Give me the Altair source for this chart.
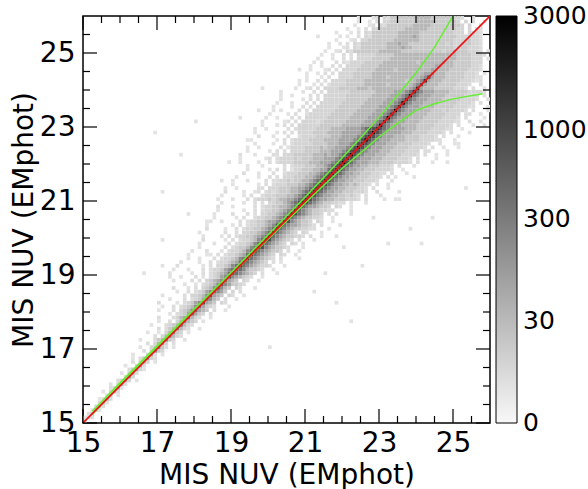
import altair as alt
import pandas as pd

# ---------------- data ----------------
mag_min = 15.0
mag_max = 26.0
bin_size = 0.1
n_bins = 110

# character -> count level of a 2D-histogram cell ('.' = empty)
level_chars = "123456789ab"
level_counts = [1, 2, 5, 12, 35, 80, 200, 400, 800, 1500, 3000]

# one string per y-bin (15.0-15.1, 15.1-15.2, ...): cells left of the diagonal,
# '|', the diagonal cell, then cells right of the diagonal
row_cells = [
    # y 15 - 16
    "|3", "1|32", "2|4", "1|41", "2|42", ".2|41", "12|52", "2|4.1", "1.3|52", "23|51",
    # y 16 - 17
    "1.3|52", "23|53.1", "2|63", "1.3|52.", "24|631",
    "1..3|62", "2.3|53.1", "1.24|632", "1...3|62.1", "2.3|743",
    # y 17 - 18
    "1..34|742.1", "2.35|63.2", "1...245|743..1", "2.35|7532", "1..1.35|743.1",
    "2.245|7532..1", "1...2345|8532", "1..2.35|7543.1", "2...2356|8532..1", "1.2346|8643.2",
    # y 18 - 19
    "1...2.3457|8654.2..1", "1..2.23457|86432...1", "2....1.23467|9654.32", "1...2.2346|8754.2..1",
    "1.....2.33457|9654.32..1", "1..2.23467|8764.3.2", "2...1.2.3457|9754.32...1",
    "1..1.23457|9764432", "1....2.2.34567|8654.32..1", "1...2.1.23467|9765432..1",
    # y 19 - 20
    "1.....1..2.234568|9876543.2...1", "1...1...2.2334678|98754432..1", "2......1.2.334578|a87654332...1",
    "1....1..2.2334568|9876543.2.1", "1..1...2.2334578|a8765432.2....1", "1.....1.2.2334568|a876543.32..1",
    "1...2...1.2334578|a8765443.2..1", "1......2.2344578|a97654432...1", "1...1...2.2334578|a876543.32.1",
    "2.....1.2.2334578|a9765432.2...1",
    # y 20 - 21
    "1....1.2.233445678|a876544332.2..1...1", "1......2..2.33445678|a876543.32...1",
    "2....1..2.233445678|a8765443322...1", "1......1.2.233445679|a876654432.2....1",
    "1...1....2.2334456678|a9765443.32..1", "1.....1.2..233445678|a876544332..1",
    "1....2...2.2.33445678|a98765443.2.2...1", "1......1..2.233445678|a8765443322....1",
    "2...1.....2.2334455678|a87665443.32..1", "1.....1..2.2.334456789|a98765443322.1...1",
    # y 21 - 22
    "1...1...2.23334345566789|a98766554443332.2....1..1", "1.....1.2..2333444556789|a9876655443432.2...1",
    "2....1...2.2323444556789|a98766554443332..2.....1", "1..1.....22.3334445566789|a9876655444332.2...1",
    "1......1.2.2333444556789|a9876655454332.2..1", "1...1....2.22334344556789|a98766554443332...1",
    "1.....1..2.2.333444556789|a98766554443332.2.1....1", "2...1...2..2333444556789|a98766554443322.2...1",
    "1.....1.2.2.333444556689|a987665544433332..1", "1...1.....2.2333444556789|a98766554443332.2...1",
    # y 22 - 23
    "1....1..2.233334444555666789|b987666555444433332.2...1...1",
    "1......12.2333343444555666789|a98766655544443332.2....1",
    "2...1....22.333444445556566789|b987666555444433332.2..1",
    "1.....1.2.2.33334444555666789|a98766655544443333.22....1",
    "1..1.....2.2333344445455666789|b987666555444433332.2..1...1",
    "1....1..2.2333334444555666789|a987666555444433332..2...1",
    "1......1.2.23333444455556666789|b98766655554444333322...1",
    "2...1...2..2333344445556666789|a987666555444433332.2...1",
    "1.....1.2.2.33334444555566666789|b9876666555444433332.2....1",
    "1..1.....2.2333334444555566667899|a98766665554444333322..1",
    # y 23 - 24
    "1...1.2.2.3333334444445555566678|b8766655554444433332.2...1..1",
    "1.....12.2.3333234444445555566678|a87666555544444333322..2..1",
    "1..1...2.2.3333334444445555566678|b8766655554444433332.2....1",
    "1....1.2..23333334444445555566678|a876665555444443333.22..1",
    "1.1....2.2.3333334444445555566678|b8766655554443433332.2...1",
    "1....1..2.2.3333334444445555566678|a87666555544444333322...1..1",
    "1...1...2.2.3333334444445555566678|b8766655554444433332.2..1",
    "1.....1.2.2.3333334444445555566678|a8766655554444433332..2..1",
    "1..1....2.2.33333344444445555566678|b876665555444443333.2.2...1",
    "1.....1..2.2.33333344444445555566678|a8766655554444433332.2..1",
    # y 24 - 25
    "1..12.2.3333444445554555555555567|a6555444443332.2..1",
    "1...1.2.2333344444555555455555567|96555444443332..2",
    "1.1..2.2.3333444445555555555545567|a6555444443332.2",
    "1...1.2..333344444555545555555567|965554444433322",
    "1..1.2.2.3333444445555555555555566|7555444443332.1",
    "1...12.2.3333444445555545555555556|6555444443332",
    "1..1..2.2.3333444445555555555555556|655544444332",
    "1.1...2.2.3333444445555555554555555|65544444333",
    "1...1..2.2.333344444555555555555555|5554444333",
    "1..1..2.2.3333344444555555555555555|5544443332",
    # y 25 - 26
    "1..12.32444444455555544444444444344|54443332.1",
    "1...12.3244444445555655444444444443|4443332",
    "1..1.2.32444444455565544444444443433|444332.",
    "1...12.3344444445555555444444444333|44332",
    "1.1..2.3244444445555654444444444333|4332",
    "1...1.2.324444444555555444444444333.3|332",
    "1..1.2.3344444445555554444444433.3.|32",
    "1...12.32444444455555444444443.3..|3.",
    "1..1.2.334444444555554444443.3.2..|2",
    "1...12.3244444445555444444332..2...|.",
]

# isolated single-count cells far from the diagonal
outlier_x = [18.07, 17.62, 17.13, 16.90, 17.13, 17.13, 17.35, 19.24, 19.86, 21.30, 20.86, 20.05,
             22.26, 22.57, 24.10, 23.84, 23.24, 25.10, 25.32, 24.83, 24.46, 22.03, 21.22, 18.70,
             18.48, 18.30, 19.42, 19.78, 20.53, 20.60, 21.86, 22.13, 25.64, 25.95, 21.50, 22.80,
             23.50, 21.80, 17.80, 18.90, 19.60, 20.20, 16.60]
outlier_y = [23.14, 22.27, 21.28, 22.87, 19.95, 19.22, 18.90, 23.27, 24.08, 25.46, 24.59, 17.03,
             17.74, 19.23, 19.86, 20.20, 19.81, 22.50, 21.30, 22.24, 20.58, 19.76, 18.59, 21.52,
             20.44, 19.50, 22.65, 23.46, 22.47, 21.84, 25.08, 24.72, 24.27, 24.80, 19.00, 20.50,
             21.00, 18.20, 20.60, 22.00, 21.20, 23.00, 19.00]

# reference lines
red_x = [15.0, 26.0]
red_y = [15.0, 26.0]

upper_x = [15.25, 16.0, 17.0, 18.0, 19.0, 20.0, 21.0, 21.5, 22.0, 22.5, 23.0, 23.5, 24.0, 24.5, 25.0]
upper_y = [15.32, 16.09, 17.09, 18.08, 19.07, 20.08, 21.10, 21.63, 22.16, 22.70, 23.26, 23.86, 24.46, 25.15, 26.00]
lower_x = [15.25, 16.0, 17.0, 18.0, 19.0, 20.0, 21.0, 21.5, 22.0, 22.5, 23.0, 23.5, 24.0, 24.5, 25.0, 25.8]
lower_y = [15.22, 16.04, 17.04, 18.02, 19.00, 19.97, 20.94, 21.42, 21.88, 22.30, 22.73, 23.10, 23.45, 23.63, 23.76, 23.90]

major_ticks = [15, 17, 19, 21, 23, 25]
minor_ticks = [15.5, 16, 16.5, 17.5, 18, 18.5, 19.5, 20, 20.5, 21.5, 22, 22.5, 23.5, 24, 24.5, 25.5]
colorbar_ticks = [0, 30, 300, 1000, 3000]

axis_title = "MIS NUV (EMphot)"

# ---------------- tables ----------------
def add_cell(recs, col, row, count):
    if 0 <= col < n_bins and 0 <= row < n_bins:
        x0 = round(mag_min + col * bin_size, 2)
        y0 = round(mag_min + row * bin_size, 2)
        recs.append({"x0": x0, "x1": round(x0 + bin_size, 2),
                     "y0": y0, "y1": round(y0 + bin_size, 2), "count": count})

cells = []
for j, row in enumerate(row_cells):
    left, right = row.split("|")
    for idx, ch in enumerate(left):
        if ch != ".":
            add_cell(cells, j - len(left) + idx, j, level_counts[level_chars.index(ch)])
    for m, ch in enumerate(right):
        if ch != ".":
            add_cell(cells, j + m, j, level_counts[level_chars.index(ch)])
for ox, oy in zip(outlier_x, outlier_y):
    add_cell(cells, int((ox - mag_min) / bin_size + 1e-9), int((oy - mag_min) / bin_size + 1e-9), 1)
cells_df = pd.DataFrame(cells)

red_df = pd.DataFrame({"x": red_x, "y": red_y})
green_df = pd.DataFrame(
    {"x": upper_x + lower_x, "y": upper_y + lower_y,
     "curve": ["upper"] * len(upper_x) + ["lower"] * len(lower_x),
     "order": list(range(len(upper_x))) + list(range(len(lower_x)))}
)
major_df = pd.DataFrame({"v": major_ticks})
minor_df = pd.DataFrame({"v": minor_ticks})

# ---------------- chart ----------------
W = 407
H = 407
font = "DejaVu Sans"
xs = alt.Scale(domain=[mag_min, mag_max], nice=False, zero=False)
ys = alt.Scale(domain=[mag_min, mag_max], nice=False, zero=False)

heat = alt.Chart(cells_df).mark_rect(strokeWidth=0).encode(
    x=alt.X("x0:Q", scale=xs, title=axis_title,
            axis=alt.Axis(values=major_ticks, labelFlush=False, labelPadding=6, titlePadding=4)),
    x2="x1:Q",
    y=alt.Y("y0:Q", scale=ys, title=axis_title,
            axis=alt.Axis(values=major_ticks, labelFlush=False, labelPadding=8, titlePadding=1)),
    y2="y1:Q",
    color=alt.Color(
        "count:Q",
        scale=alt.Scale(type="pow", exponent=0.3, domain=[-1e-9, 3000.01],
                        range=["#f8f8f8", "#000000"], interpolate="rgb", nice=False, zero=False),
        legend=alt.Legend(title=None, orient="right", direction="vertical", offset=6,
                          gradientLength=H, gradientThickness=21, gradientStrokeColor="black",
                          gradientStrokeWidth=1, values=colorbar_ticks, format="d", labelFontSize=25,
                          labelFont=font, labelColor="black", labelOffset=6, labelOverlap=False,
                          padding=0),
    ),
)

green = alt.Chart(green_df).mark_line(color="#66ee33", strokeWidth=1.5, clip=True).encode(
    x=alt.X("x:Q", scale=xs, title=axis_title),
    y=alt.Y("y:Q", scale=ys, title=axis_title),
    detail="curve:N",
    order="order:Q",
)

red = alt.Chart(red_df).mark_line(color="#ee1111", strokeWidth=1.6, clip=True).encode(
    x=alt.X("x:Q", scale=xs, title=axis_title),
    y=alt.Y("y:Q", scale=ys, title=axis_title),
)


def xticks(df, length, top):
    y_a = 0 if top else H
    y_b = length if top else H - length
    return alt.Chart(df).mark_rule(color="black", strokeWidth=1.2).encode(
        x=alt.X("v:Q", scale=xs, title=axis_title),
        y=alt.value(y_a), y2=alt.value(y_b))


def yticks(df, length, right):
    x_a = W if right else 0
    x_b = W - length if right else length
    return alt.Chart(df).mark_rule(color="black", strokeWidth=1.2).encode(
        y=alt.Y("v:Q", scale=ys, title=axis_title),
        x=alt.value(x_a), x2=alt.value(x_b))


ticks = [
    xticks(major_df, 14, False), xticks(major_df, 14, True),
    xticks(minor_df, 7, False), xticks(minor_df, 7, True),
    yticks(major_df, 14, False), yticks(major_df, 14, True),
    yticks(minor_df, 7, False), yticks(minor_df, 7, True),
]

chart = alt.layer(heat, green, red, *ticks).properties(
    width=W, height=H,
    autosize=alt.AutoSizeParams(type="none"),
    padding={"left": 83, "top": 16, "right": 98, "bottom": 66},
).configure_view(
    stroke="black", strokeWidth=1.5
).configure_axis(
    domain=False, ticks=False, grid=False,
    labelFont=font, labelFontSize=28, labelColor="black",
    titleFont=font, titleFontSize=28, titleFontWeight="normal", titleColor="black",
).configure_legend(
    gradientVerticalMaxLength=H, gradientVerticalMinLength=H,
)

chart.save("out.html", embed_options={"renderer": "svg", "actions": False})
